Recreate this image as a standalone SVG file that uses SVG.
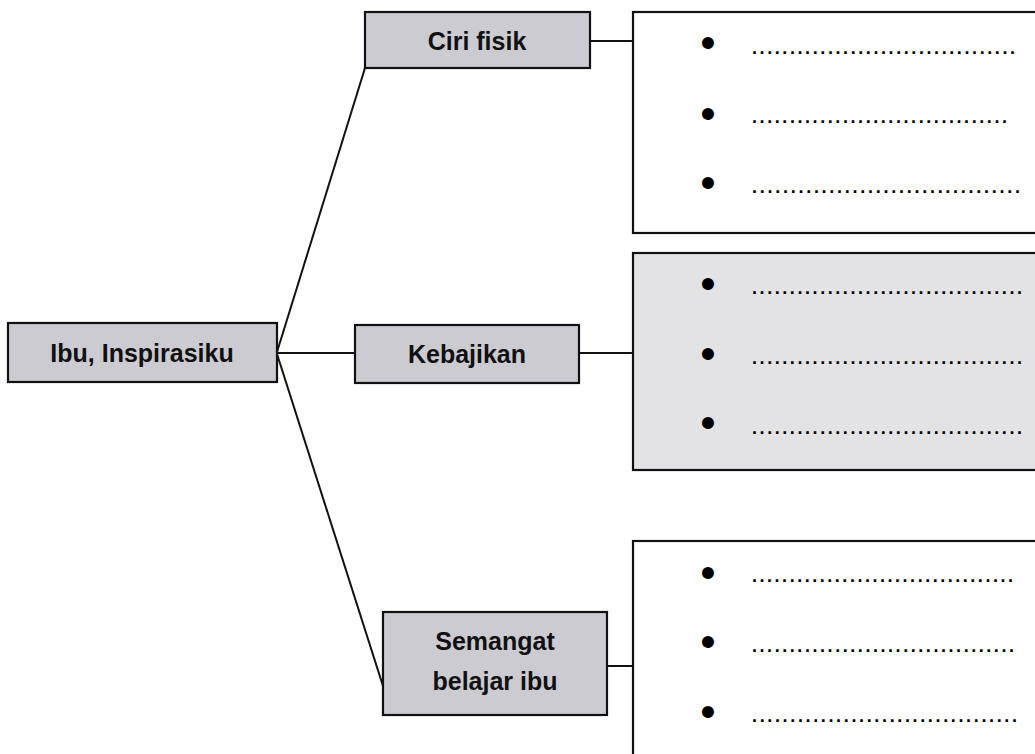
<svg xmlns="http://www.w3.org/2000/svg" width="1035" height="754" viewBox="0 0 1035 754">
<defs>
<style>
.node{fill:#cbcbd1;stroke:#111;stroke-width:2.2}
.panel{fill:#ffffff;stroke:#111;stroke-width:2.2}
.panel.shade{fill:#e3e3e6}
.lbl{font-family:"Liberation Sans",Arial,sans-serif;font-weight:bold;font-size:25px;fill:#111;text-anchor:middle}
.bul{font-family:"Liberation Sans",Arial,sans-serif;font-size:44px;fill:#000;text-anchor:middle}
.dots{font-family:"Liberation Sans",Arial,sans-serif;font-weight:bold;font-size:18px;fill:#000}
.con{stroke:#111;stroke-width:2;fill:none}
</style>
</defs>
<rect width="1035" height="754" fill="#ffffff"/>
<g id="connectors">
<line class="con" x1="277" y1="352" x2="365" y2="68"/>
<line class="con" x1="277" y1="353" x2="355" y2="353"/>
<line class="con" x1="277" y1="354" x2="383" y2="686"/>
<line class="con" x1="590" y1="41" x2="633" y2="41"/>
<line class="con" x1="579" y1="353" x2="633" y2="353"/>
<line class="con" x1="607" y1="666" x2="633" y2="666"/>
</g>
<g id="node-main">
<rect class="node" x="8" y="323" width="269" height="59"/>
<text class="lbl" x="142" y="362">Ibu, Inspirasiku</text>
</g>
<g id="node-ciri">
<rect class="node" x="365" y="12" width="225" height="56"/>
<text class="lbl" x="477" y="50">Ciri fisik</text>
</g>
<g id="node-kebajikan">
<rect class="node" x="355" y="325" width="224" height="58"/>
<text class="lbl" x="467" y="363">Kebajikan</text>
</g>
<g id="node-semangat">
<rect class="node" x="383" y="612" width="224" height="103"/>
<text class="lbl" x="495" y="650">Semangat</text>
<text class="lbl" x="495" y="690">belajar ibu</text>
</g>
<g id="panel-ciri">
<rect class="panel" x="633" y="12" width="420" height="221"/>
<text class="bul" x="708" y="58">•</text>
<text class="bul" x="708" y="129">•</text>
<text class="bul" x="708" y="198">•</text>
<text class="dots" x="752" y="54" textLength="263" lengthAdjust="spacing">...................................</text>
<text class="dots" x="752" y="123" textLength="255" lengthAdjust="spacing">..................................</text>
<text class="dots" x="752" y="193" textLength="268" lengthAdjust="spacing">...................................</text>
</g>
<g id="panel-kebajikan">
<rect class="panel shade" x="633" y="253" width="420" height="217"/>
<text class="bul" x="708" y="299">•</text>
<text class="bul" x="708" y="369">•</text>
<text class="bul" x="708" y="438">•</text>
<text class="dots" x="752" y="294" textLength="270" lengthAdjust="spacing">....................................</text>
<text class="dots" x="752" y="364" textLength="270" lengthAdjust="spacing">....................................</text>
<text class="dots" x="752" y="434" textLength="270" lengthAdjust="spacing">....................................</text>
</g>
<g id="panel-semangat">
<rect class="panel" x="633" y="541" width="420" height="240"/>
<text class="bul" x="708" y="588">•</text>
<text class="bul" x="708" y="657">•</text>
<text class="bul" x="708" y="727">•</text>
<text class="dots" x="752" y="582" textLength="261" lengthAdjust="spacing">...................................</text>
<text class="dots" x="752" y="652" textLength="262" lengthAdjust="spacing">...................................</text>
<text class="dots" x="752" y="722" textLength="265" lengthAdjust="spacing">...................................</text>
</g>
</svg>
